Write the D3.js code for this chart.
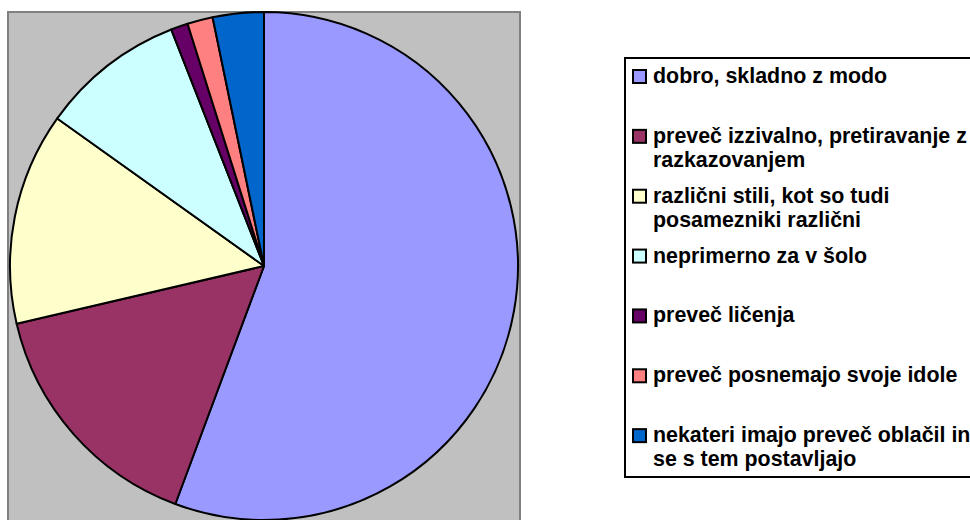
<!DOCTYPE html>
<html>
<head>
<meta charset="utf-8">
<script src="https://cdn.jsdelivr.net/npm/d3@7"></script>
<style>
  body { margin: 0; background: #fff; overflow: hidden; }
  svg { display: block; }
</style>
</head>
<body>
<div id="vis-container"></div>
<script>
(() => {

    ////////////////////////////////////
    ///////////// Data /////////////////
    ////////////////////////////////////

    // legend labels, "\n" marks where the original wraps
    const categories = [
        'dobro, skladno z modo',
        'preveč izzivalno, pretiravanje z\nrazkazovanjem',
        'različni stili, kot so tudi\nposamezniki različni',
        'neprimerno za v šolo',
        'preveč ličenja',
        'preveč posnemajo svoje idole',
        'nekateri imajo preveč oblačil in\nse s tem postavljajo'
    ]

    // answers per category
    const counts = [103, 29, 25, 17, 2, 3, 6]

    const colors = ['#9999FF', '#993366', '#FFFFCC', '#CCFFFF', '#660066', '#FF8080', '#0066CC']

    ////////////////////////////////////
    ///////////// SVG Setup ////////////
    ////////////////////////////////////

    const svgWidth = 970
    const svgHeight = 520

    const svg = d3.select('#vis-container')
        .append('svg')
        .attr('width', svgWidth)
        .attr('height', svgHeight)

    // plot area (runs off the bottom edge like the original)
    const plot = { x: 8, y: 12, w: 512, h: 520 }

    svg.append('rect')
        .attr('x', plot.x)
        .attr('y', plot.y)
        .attr('width', plot.w)
        .attr('height', plot.h)
        .attr('fill', '#C0C0C0')
        .attr('stroke', '#808080')
        .attr('stroke-width', 2)

    ////////////////////////////////////
    /////////////// Pie ////////////////
    ////////////////////////////////////

    const cx = 264
    const cy = 266
    const radius = 254

    const colorScale = d3.scaleOrdinal()
        .domain(categories)
        .range(colors)

    const pie = d3.pie()
        .sort(null)
        .value((d, i) => counts[i])

    const arc = d3.arc()
        .innerRadius(0)
        .outerRadius(radius)

    svg.append('g')
        .attr('transform', `translate(${cx},${cy})`)
        .selectAll('path')
        .data(pie(categories))
        .join('path')
        .attr('d', arc)
        .attr('fill', d => colorScale(d.data))
        .attr('stroke', '#000')
        .attr('stroke-width', 2)
        .attr('stroke-linejoin', 'round')

    ////////////////////////////////////
    ///////////// Legend ///////////////
    ////////////////////////////////////

    const legend = { x: 625, y: 58, w: 360, h: 419 }

    svg.append('rect')
        .attr('x', legend.x)
        .attr('y', legend.y)
        .attr('width', legend.w)
        .attr('height', legend.h)
        .attr('fill', '#fff')
        .attr('stroke', '#000')
        .attr('stroke-width', 2)

    const slot = legend.h / categories.length

    const item = svg.append('g')
        .selectAll('g')
        .data(categories)
        .join('g')
        .attr('transform', (d, i) => `translate(${legend.x}, ${legend.y + slot * i})`)

    item.append('rect')
        .attr('x', 8)
        .attr('y', 12)
        .attr('width', 13)
        .attr('height', 13)
        .attr('fill', d => colorScale(d))
        .attr('stroke', '#000')
        .attr('stroke-width', 2)

    item.append('text')
        .attr('font-family', '"Liberation Sans", Arial, sans-serif')
        .attr('font-weight', 'bold')
        .attr('font-size', 21.4)
        .attr('fill', '#000')
        .selectAll('tspan')
        .data(d => d.split('\n'))
        .join('tspan')
        .attr('x', 28)
        .attr('y', (d, i) => 25 + i * 24)
        .text(d => d)

})()
</script>
</body>
</html>
